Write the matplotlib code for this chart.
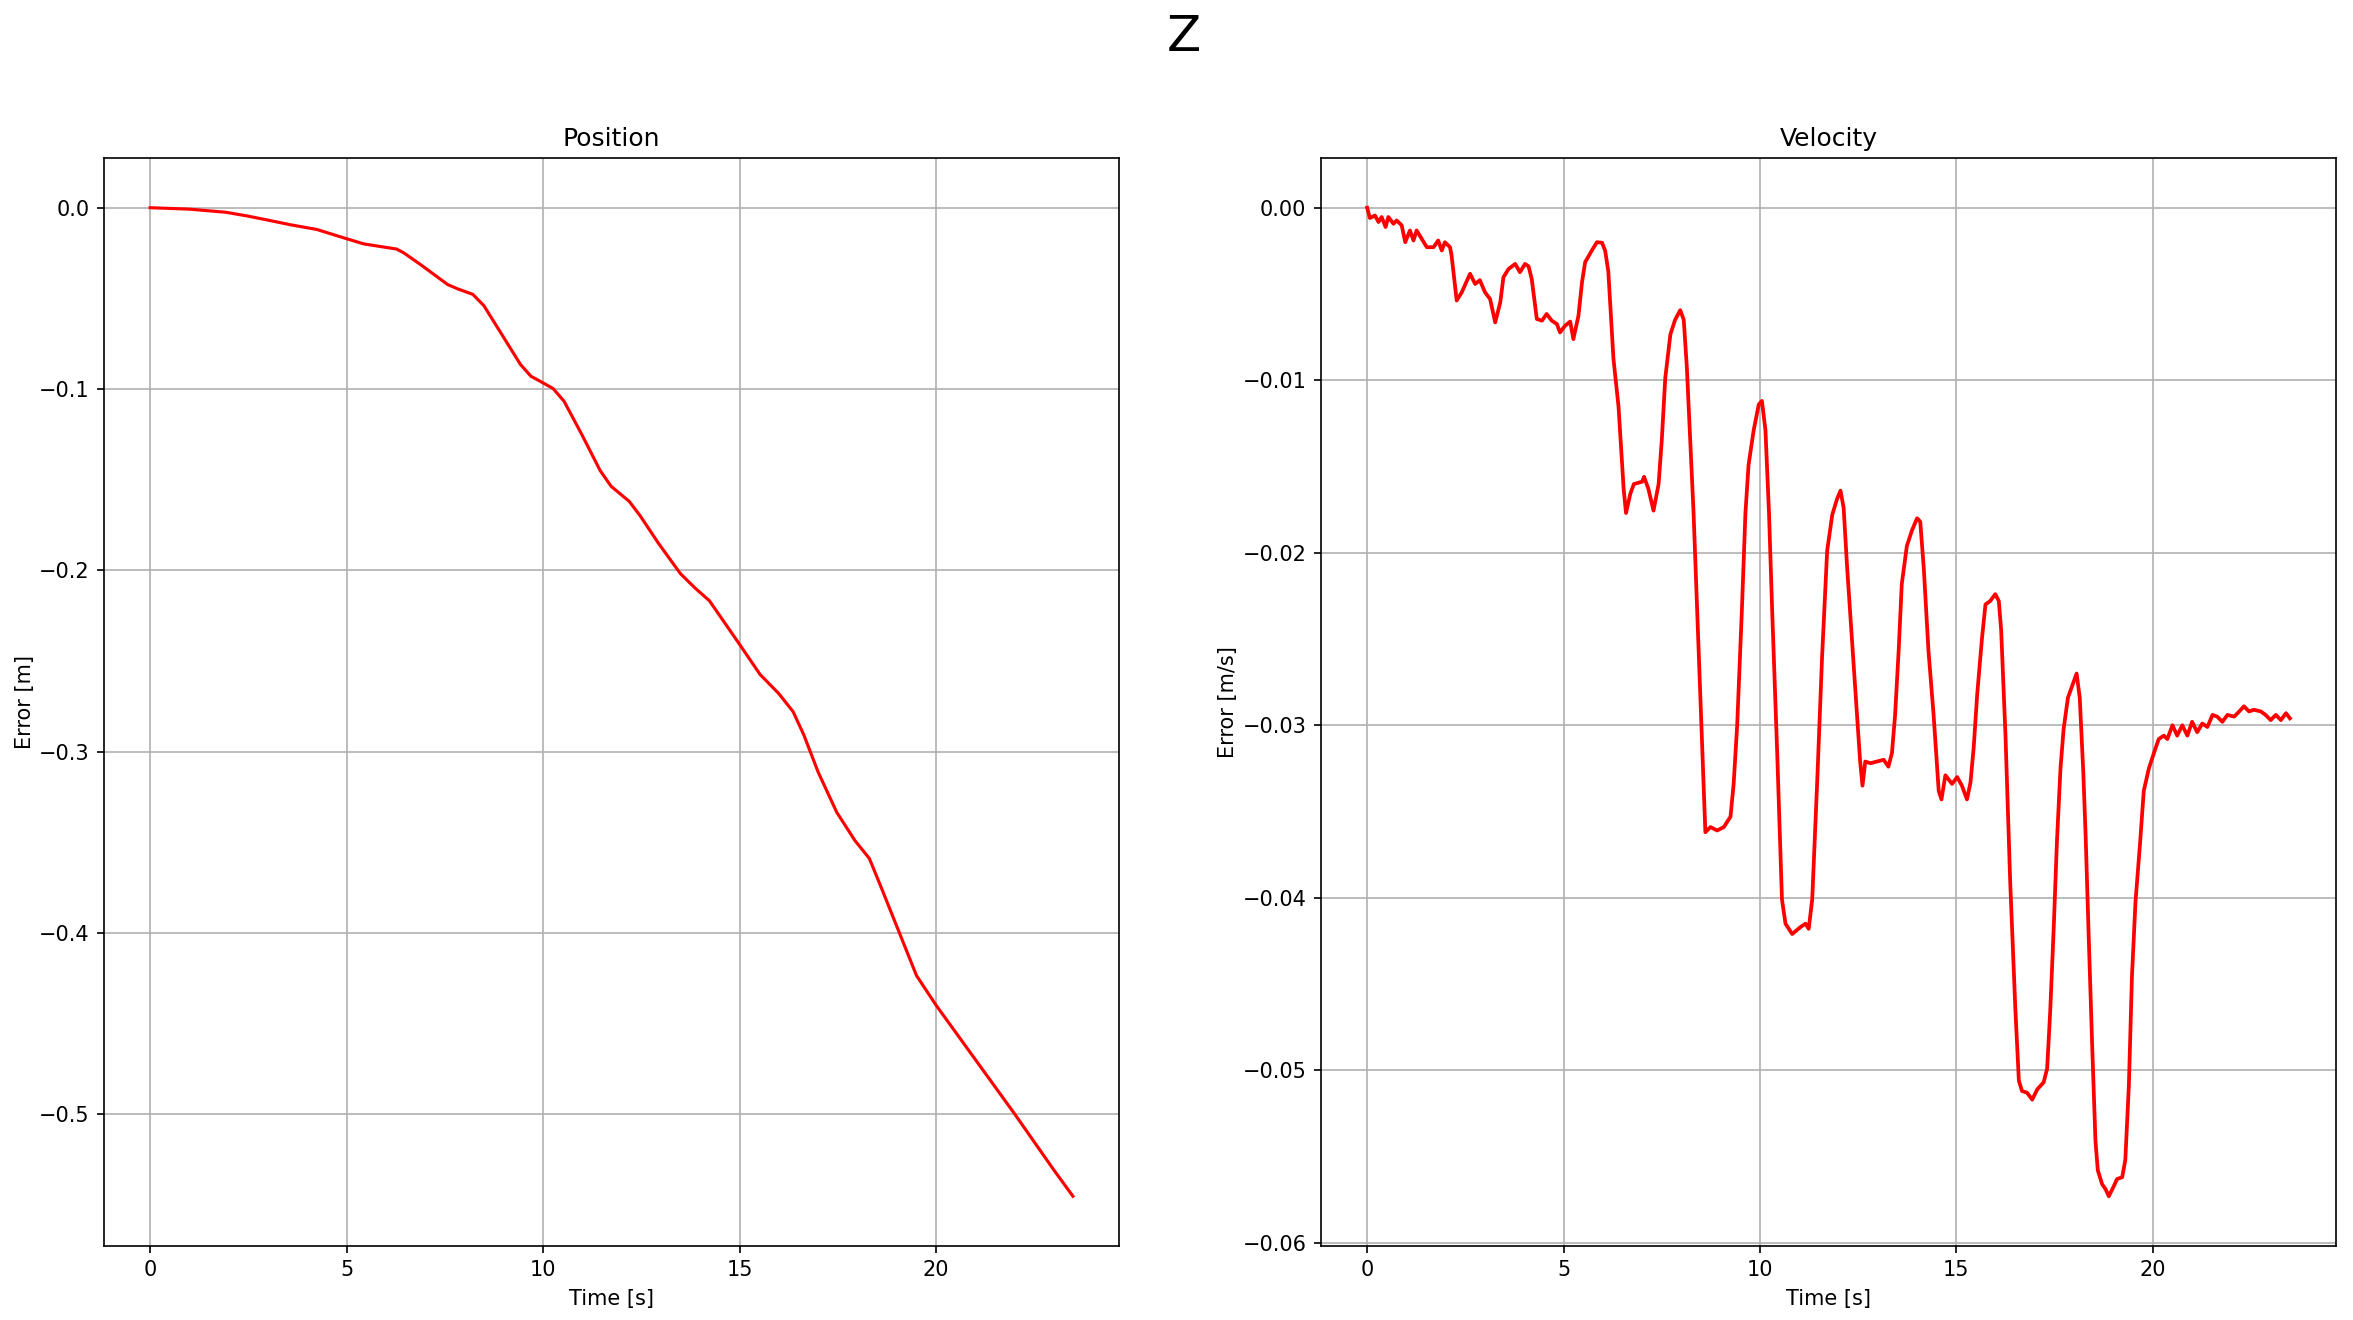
import numpy as np
from matplotlib import pyplot as plt

# position error [m]
pos_time = [0.0, 1.0, 1.92, 2.48, 3.03, 3.59, 4.24, 4.98, 5.44, 6.27, 6.46,
            6.92, 7.57, 7.84, 8.21, 8.49, 8.95, 9.42, 9.69, 9.97, 10.25,
            10.53, 10.99, 11.45, 11.73, 12.19, 12.47, 12.93, 13.49, 13.86,
            14.23, 14.60, 14.97, 15.52, 15.99, 16.36, 16.63, 17.0, 17.47,
            17.93, 18.30, 18.58, 19.04, 19.50, 20.0, 21.0, 22.0, 23.0, 23.48]
pos_error = [0.0, -0.0008, -0.0025, -0.0046, -0.007, -0.0095, -0.012, -0.017,
             -0.020, -0.0228, -0.025, -0.032, -0.0424, -0.0449, -0.0478,
             -0.054, -0.070, -0.0864, -0.093, -0.0963, -0.0997, -0.1067,
             -0.1254, -0.145, -0.1537, -0.162, -0.170, -0.185, -0.2018,
             -0.2097, -0.2168, -0.2284, -0.240, -0.2575, -0.2679, -0.278,
             -0.2907, -0.3115, -0.3335, -0.349, -0.359, -0.3738, -0.3987,
             -0.4236, -0.440, -0.470, -0.500, -0.531, -0.5453]

# velocity error [m/s]
vel_time = [0.00, 0.07, 0.20, 0.29, 0.37, 0.47, 0.54, 0.67, 0.75, 0.88, 0.97,
            1.09, 1.18, 1.26, 1.39, 1.52, 1.69, 1.81, 1.90, 1.98, 2.11, 2.15,
            2.28, 2.41, 2.62, 2.75, 2.87, 3.00, 3.13, 3.26, 3.39, 3.47, 3.60,
            3.77, 3.89, 4.02, 4.11, 4.19, 4.32, 4.45, 4.57, 4.70, 4.83, 4.91,
            5.04, 5.17, 5.25, 5.38, 5.47, 5.55, 5.72, 5.85, 5.98, 6.06, 6.14,
            6.27, 6.40, 6.53, 6.59, 6.70, 6.79, 7.00, 7.05, 7.16, 7.29, 7.42,
            7.50, 7.59, 7.72, 7.84, 7.97, 8.06, 8.14, 8.31, 8.49, 8.61, 8.74,
            8.91, 9.08, 9.25, 9.33, 9.42, 9.54, 9.63, 9.71, 9.84, 9.97, 10.05,
            10.14, 10.23, 10.31, 10.44, 10.56, 10.65, 10.82, 11.03, 11.16,
            11.24, 11.33, 11.46, 11.58, 11.71, 11.84, 11.96, 12.05, 12.13,
            12.22, 12.34, 12.47, 12.55, 12.61, 12.68, 12.81, 12.98, 13.15,
            13.27, 13.36, 13.44, 13.53, 13.61, 13.74, 13.87, 14.00, 14.08,
            14.17, 14.29, 14.42, 14.55, 14.62, 14.72, 14.89, 15.02, 15.14,
            15.27, 15.36, 15.44, 15.53, 15.65, 15.74, 15.86, 15.99, 16.08,
            16.14, 16.25, 16.37, 16.50, 16.59, 16.67, 16.80, 16.93, 17.06,
            17.22, 17.31, 17.39, 17.48, 17.56, 17.65, 17.73, 17.84, 17.95,
            18.06, 18.14, 18.23, 18.29, 18.37, 18.46, 18.54, 18.60, 18.71,
            18.80, 18.88, 19.01, 19.09, 19.22, 19.30, 19.39, 19.47, 19.56,
            19.67, 19.77, 19.90, 20.03, 20.15, 20.28, 20.37, 20.50, 20.62,
            20.75, 20.88, 21.00, 21.13, 21.26, 21.39, 21.52, 21.64, 21.77,
            21.90, 22.07, 22.20, 22.32, 22.45, 22.57, 22.75, 22.87, 23.00,
            23.13, 23.26, 23.39, 23.49]
vel_error = [0.0, -0.0006, -0.00045, -0.00083, -0.00054, -0.00112, -0.00054,
             -0.00093, -0.00074, -0.00102, -0.0020, -0.00132, -0.0019,
             -0.00132, -0.0018, -0.00229, -0.00229, -0.0019, -0.00248,
             -0.0020, -0.00229, -0.00277, -0.00538, -0.0049, -0.00383,
             -0.00442, -0.0042, -0.0049, -0.00529, -0.00665, -0.00548,
             -0.00403, -0.00355, -0.00326, -0.00374, -0.00326, -0.0034,
             -0.00413, -0.00645, -0.00655, -0.00616, -0.00655, -0.00674,
             -0.00723, -0.00684, -0.0066, -0.00762, -0.00626, -0.00432,
             -0.00316, -0.00248, -0.0020, -0.00203, -0.0025, -0.0037,
             -0.00874, -0.01154, -0.0163, -0.0177, -0.01658, -0.01602,
             -0.01588, -0.0156, -0.0163, -0.01756, -0.01602, -0.0135,
             -0.00986, -0.00734, -0.0065, -0.00594, -0.0065, -0.0093, -0.0177,
             -0.0289, -0.0362, -0.0359, -0.0361, -0.0359, -0.0353, -0.0334,
             -0.0300, -0.0233, -0.0177, -0.0149, -0.0129, -0.0114, -0.0112,
             -0.0129, -0.0177, -0.0233, -0.0317, -0.0401, -0.0415, -0.0421,
             -0.0417, -0.0415, -0.0418, -0.0401, -0.0331, -0.0261, -0.0199,
             -0.0178, -0.0169, -0.0164, -0.0174, -0.0209, -0.0250, -0.0294,
             -0.0321, -0.0335, -0.0321, -0.0322, -0.0321, -0.0320, -0.0324,
             -0.0316, -0.0294, -0.0257, -0.0218, -0.0196, -0.0187, -0.0180,
             -0.0182, -0.0209, -0.0257, -0.0294, -0.0338, -0.0343, -0.0329,
             -0.0334, -0.0330, -0.0335, -0.0343, -0.0333, -0.0313, -0.0282,
             -0.0250, -0.0230, -0.0228, -0.0224, -0.0228, -0.0245, -0.0306,
             -0.0391, -0.0464, -0.0506, -0.0512, -0.0513, -0.0517, -0.0511,
             -0.0507, -0.0499, -0.0465, -0.0416, -0.0367, -0.0325, -0.0302,
             -0.0284, -0.0277, -0.0270, -0.0284, -0.0327, -0.0364, -0.0424,
             -0.0488, -0.0541, -0.0558, -0.0566, -0.0569, -0.0573, -0.0567,
             -0.0563, -0.0562, -0.0552, -0.0509, -0.0445, -0.0402, -0.0370,
             -0.0338, -0.0325, -0.0316, -0.0308, -0.0306, -0.0308, -0.0300,
             -0.0306, -0.0300, -0.0306, -0.0298, -0.0304, -0.0299, -0.0301,
             -0.0294, -0.0295, -0.0298, -0.0294, -0.0295, -0.0292, -0.0289,
             -0.0292, -0.0291, -0.0292, -0.0294, -0.0297, -0.0294, -0.0297,
             -0.0293, -0.0296]

fig = plt.figure(figsize=(2353 / 150, 1320 / 150), dpi=150)
ax_pos = fig.add_axes([0.0442, 0.0563, 0.4314, 0.8238])
ax_vel = fig.add_axes([0.5614, 0.0563, 0.4314, 0.8238])

ax_pos.plot(np.array(pos_time), np.array(pos_error), color="red")
ax_pos.set_title("Position")
ax_pos.set_xlabel("Time [s]")
ax_pos.set_ylabel("Error [m]", labelpad=2)
ax_pos.grid(True)

ax_vel.plot(np.array(vel_time), np.array(vel_error), color="red", lw=1.8)
ax_vel.set_title("Velocity")
ax_vel.set_xlabel("Time [s]")
ax_vel.set_ylabel("Error [m/s]", labelpad=2)
ax_vel.grid(True)

fig.suptitle("Z", fontsize=24, x=0.503, y=0.99)
fig.savefig("out.png", dpi=150)
